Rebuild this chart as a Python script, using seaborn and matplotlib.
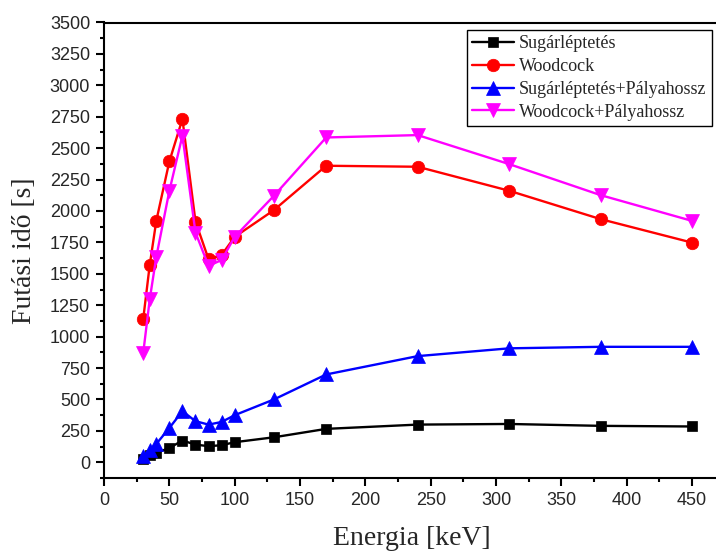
import matplotlib
matplotlib.use("Agg")
import matplotlib.pyplot as plt
import pandas as pd
import seaborn as sns
from matplotlib.ticker import MultipleLocator

# Energy grid [keV]
energia = [30, 35, 40, 50, 60, 70, 80, 90, 100, 130, 170, 240, 310, 380, 450]

# Run times [s] for each method
sugarleptetes = [25, 56, 74, 114, 173, 141, 128, 136, 160, 199, 266, 300, 305, 290, 285]
woodcock = [1140, 1571, 1921, 2394, 2732, 1916, 1616, 1650, 1794, 2007, 2360, 2352, 2161, 1935, 1748]
sugar_palya = [48, 100, 146, 273, 407, 327, 300, 321, 375, 500, 699, 845, 907, 919, 919]
woodcock_palya = [869, 1297, 1634, 2160, 2599, 1828, 1563, 1610, 1794, 2121, 2585, 2604, 2373, 2126, 1921]

labels = ["Sugárléptetés", "Woodcock", "Sugárléptetés+Pályahossz", "Woodcock+Pályahossz"]
series = [sugarleptetes, woodcock, sugar_palya, woodcock_palya]
colors = ["#000000", "#FF0000", "#0000FF", "#FF00FF"]
markers = ["s", "o", "^", "v"]
msizes = [7.8, 9.0, 9.8, 9.8]

sns.set_style("ticks")
plt.rcParams["font.family"] = ["Liberation Sans", "DejaVu Sans"]

fig = plt.figure(figsize=(7.16, 5.54), dpi=100)
W, H = 716, 554
ax = fig.add_axes([104 / W, (H - 478) / H, (W - 104) / W, (478 - 22.5) / H])

for lab, vals, col, mk, ms in zip(labels, series, colors, markers, msizes):
    df = pd.DataFrame({"Energia": energia, "Ido": vals})
    sns.lineplot(data=df, x="Energia", y="Ido", ax=ax, color=col, marker=mk,
                 markersize=ms, markeredgecolor=col, markeredgewidth=0.5,
                 linewidth=1.7, label=lab, errorbar=None, sort=False)

ax.set_xlim(0, (W - 104) / 1.307)
ax.set_ylim(-125, 3500)
ax.xaxis.set_major_locator(MultipleLocator(50))
ax.xaxis.set_minor_locator(MultipleLocator(25))
ax.yaxis.set_major_locator(MultipleLocator(250))
ax.yaxis.set_minor_locator(MultipleLocator(125))

for side in ["left", "bottom", "top"]:
    ax.spines[side].set_linewidth(1.5)
    ax.spines[side].set_color("black")
ax.spines["right"].set_visible(False)

ax.tick_params(which="major", direction="out", length=6, width=1.5, labelsize=13,
               color="black", pad=4)
ax.tick_params(which="minor", direction="out", length=3, width=1.5, color="black")
ax.tick_params(axis="x", which="both", top=False)
ax.tick_params(axis="y", which="both", right=False)

serif = ["Liberation Serif", "DejaVu Serif"]
ax.set_xlabel("Energia [keV]", fontsize=20, family=serif)
ax.set_ylabel("Futási idő [s]", fontsize=20, family=serif)
ax.xaxis.set_label_coords((412 - 104) / 612, -(526 - 478) / 455.5)
ax.yaxis.set_label_coords(-(104 - 37) / 612, 0.5)

leg = ax.legend(loc="upper right", bbox_to_anchor=(712 / W, 1 - 30 / H),
                bbox_transform=fig.transFigure, borderaxespad=0,
                prop={"family": serif, "size": 13}, frameon=True, fancybox=False,
                framealpha=1, edgecolor="black", handlelength=2.3,
                handletextpad=0.3, labelspacing=0.32, borderpad=0.3)
leg.get_frame().set_linewidth(1.0)

fig.savefig("out.png", dpi=100)
